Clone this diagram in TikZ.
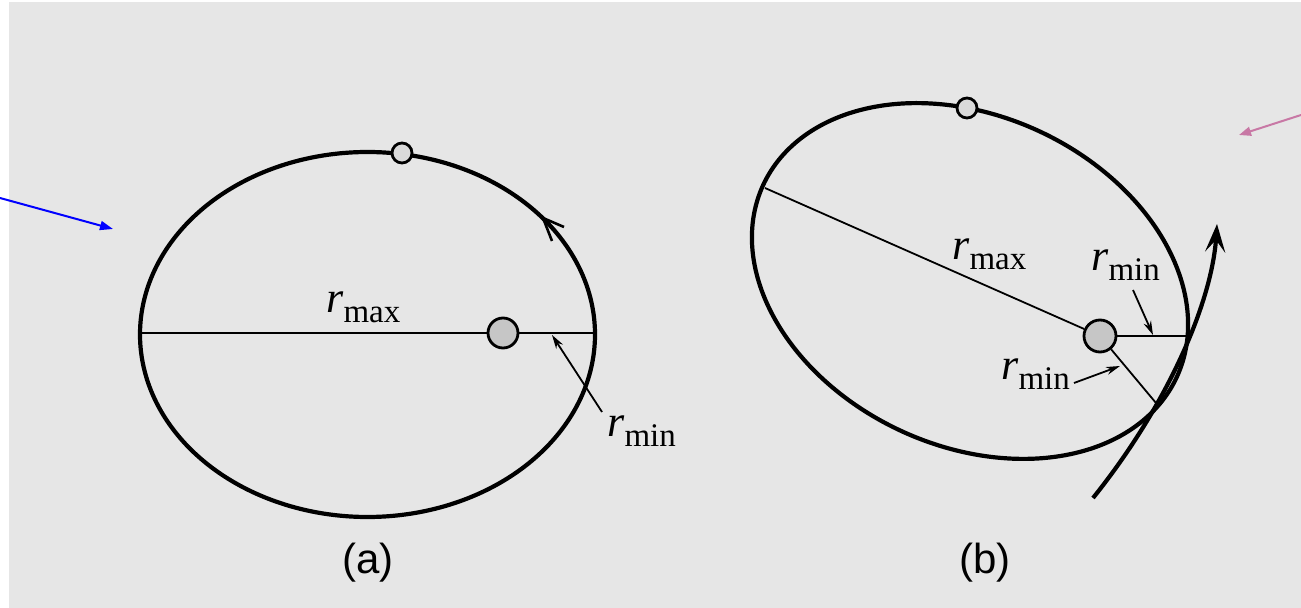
\documentclass[tikz,border=0pt]{standalone}
\usepackage{fontspec}
\setmainfont{Liberation Serif}
\newfontfamily\labsans{Liberation Sans}
\usetikzlibrary{arrows.meta}
\definecolor{bggray}{RGB}{230,230,230}
\definecolor{pinkarr}{RGB}{200,120,165}
\newcommand\rlab[1]{{\fontsize{22}{24}\selectfont\itshape r}\raisebox{-5pt}{\fontsize{16.5}{18}\selectfont #1}}
\begin{document}
\begin{tikzpicture}[x=0.5pt,y=-0.5pt,
  orbit/.style={line width=2.1pt,line join=round},
  radline/.style={line width=0.9pt},
  pointer/.style={line width=0.9pt,-{Stealth[length=7pt,width=4pt]}},
  barb/.style={line width=1.3pt,line join=miter},
  body/.style={circle,draw=black,line width=1.4pt,fill=gray!45,inner sep=0pt},
  sunstyle/.style={body,minimum size=15pt},
  planetstyle/.style={body,minimum size=10pt,fill=gray!30},
  rlabel/.style={anchor=base west,inner sep=0pt},
  caption/.style={font=\labsans\fontsize{21}{24}\selectfont,inner sep=0pt}]
\useasboundingbox (0,0) rectangle (1301,608);
\fill[white] (0,0) rectangle (1301,608);
\fill[bggray] (9,2) rectangle (1301,608);

% ---------- (a) ----------
\draw[orbit] plot[domain=0:360,samples=361] ({367.5+227.5*cos(\x)},{334.5+182.5*sin(\x)}) -- cycle;
\coordinate (aL) at (140,333);
\coordinate (aR) at (595,333);
\node[sunstyle] (suna) at (503,333) {};
\node[planetstyle] (pa) at (402,153) {};
\draw[radline] (aL) -- (suna);
\draw[radline] (suna) -- (aR);
% direction arrowhead on orbit
\coordinate (datip) at (543,218);
\coordinate (dab1) at (564,227);
\coordinate (dab2) at (552,241);
\draw[barb] (dab1) -- (datip) -- (dab2);
\node[rlabel] (rmaxa) at (326,313) {\rlab{max}};
\node[rlabel] (rmina) at (607,437) {\rlab{min}};
\coordinate (ta) at (602,412);
\coordinate (ha) at (552,335);
\draw[pointer] (ta) -- (ha);
\node[caption] (capa) at (368,563) {(a)};

% ---------- (b) ----------
\draw[orbit] plot[domain=0:360,samples=361]
  ({970+228*cos(\x)*cos(25)-165*sin(\x)*sin(25)},{281+228*cos(\x)*sin(25)+165*sin(\x)*cos(25)}) -- cycle;
\coordinate (bL) at (765,188);
\coordinate (bR) at (1187,336);
\coordinate (bS) at (1156,403);
\node[sunstyle,minimum size=16pt] (sunb) at (1100,336) {};
\node[planetstyle] (pb) at (967,108) {};
\draw[radline] (bL) -- (sunb);
\draw[radline] (sunb) -- (bR);
\draw[radline] (sunb) -- (bS);
% hyperbolic path
\coordinate (hs) at (1093,498);
\coordinate (he) at (1217,224);
\draw[orbit,-{Stealth[length=14pt,width=10pt,inset=6pt]}] (hs) .. controls (1170,402) and (1212,300) .. (he);
\node[rlabel] (rmaxb) at (952,260) {\rlab{max}};
\node[rlabel] (rminb1) at (1091,271) {\rlab{min}};
\node[rlabel] (rminb2) at (1001,380) {\rlab{min}};
\coordinate (tb1) at (1133,290);
\coordinate (hb1) at (1153,335);
\draw[pointer] (tb1) -- (hb1);
\coordinate (tb2) at (1074,383);
\coordinate (hb2) at (1120,366);
\draw[pointer] (tb2) -- (hb2);
\node[caption] (capb) at (985,563) {(b)};

% ---------- annotation arrows ----------
\coordinate (bluestart) at (0,198);
\coordinate (blueend) at (113,229);
\draw[blue,line width=1pt,-{Triangle[length=6.5pt,width=4.5pt]}] (bluestart) -- (blueend);
\coordinate (pinkstart) at (1301,115);
\coordinate (pinkend) at (1239,135);
\draw[pinkarr,line width=1pt,-{Triangle[length=6pt,width=4.5pt]}] (pinkstart) -- (pinkend);
\end{tikzpicture}
\end{document}
